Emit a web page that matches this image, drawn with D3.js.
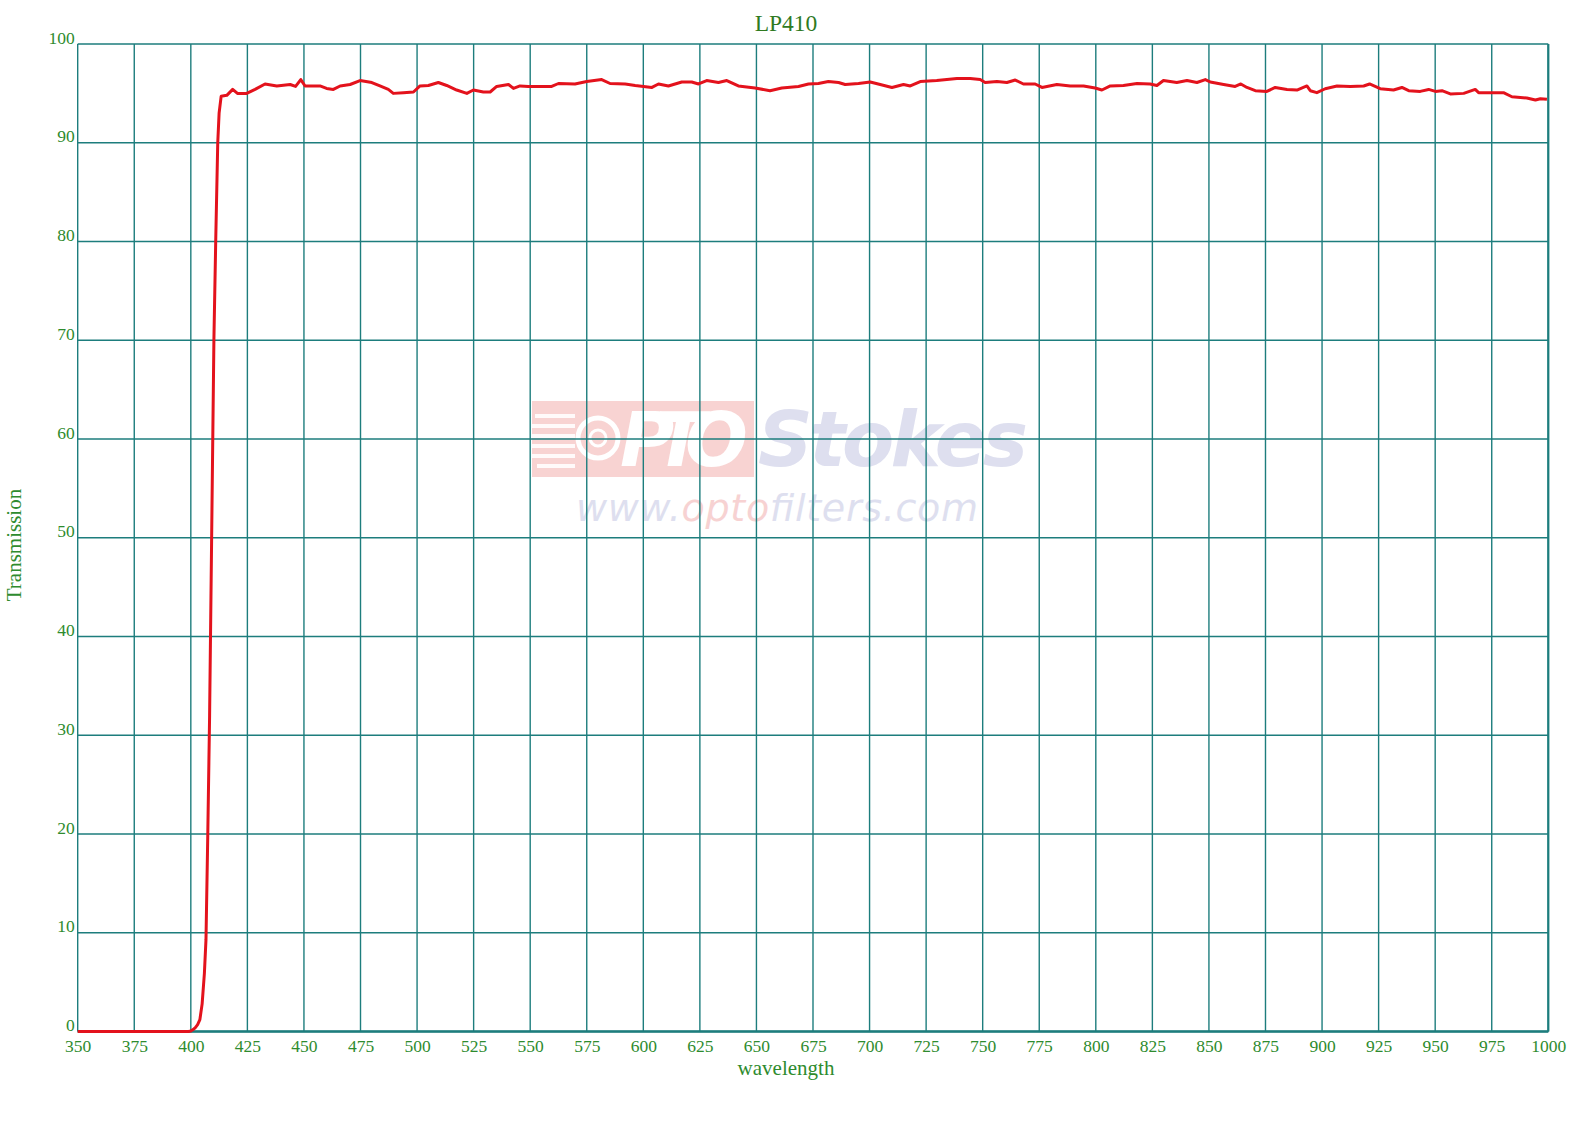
<!DOCTYPE html>
<html>
<head>
<meta charset="utf-8">
<script src="https://cdn.jsdelivr.net/npm/d3@7"></script>
<style>
  html, body { margin: 0; padding: 0; background: #fff; }
  svg { display: block; }
</style>
</head>
<body>
<svg id="chart" width="1581" height="1136"></svg>
<script>
// ---- data ----
const chartTitle = "LP410";
const xLabel = "wavelength";
const yLabel = "Transmission";
const xTicks = [350, 375, 400, 425, 450, 475, 500, 525, 550, 575, 600, 625, 650, 675, 700, 725, 750, 775, 800, 825, 850, 875, 900, 925, 950, 975, 1000];
const yTicks = [0, 10, 20, 30, 40, 50, 60, 70, 80, 90, 100];
const wavelengths = [
  350, 375, 399, 400, 401, 402, 403, 404, 405, 406, 406.7, 407.5, 408.3, 409.2, 410.2, 411, 411.9, 412.5, 413.4,
  415.9, 418.5, 420.6, 424.7, 428.4, 432.8, 438, 443.9, 446.3, 448.6, 450.5, 457.1, 460, 463, 466, 470.4, 474.8,
  480, 483.6, 487.3, 489.5, 494, 498.4, 501.3, 505, 509.4, 513.1, 517.5, 522, 524.9, 529.3, 532.3, 535.2, 540.4,
  542.6, 545.5, 549.2, 553.6, 559.5, 562.5, 569.8, 575, 581.6, 585.3, 592, 596.4, 603.8, 606.7, 611.1, 617, 621.4,
  624.4, 628, 633.2, 636.9, 642, 649.4, 656, 661.2, 668.6, 673, 677.4, 681.8, 686.3, 689.2, 695.1, 700.3, 704.7,
  709.9, 715, 718, 722.4, 729.7, 738.6, 744.5, 748.9, 751.1, 756.3, 760.7, 764.4, 768, 773.2, 776.2, 782.8, 788.7,
  794.6, 799.7, 802.7, 806.4, 812.2, 818.2, 824, 827, 829.9, 835.8, 840.3, 844.7, 848.4, 850.6, 856.5, 861.6, 864.1,
  866.8, 870.5, 875.6, 879.3, 884.5, 888.9, 893.3, 894.8, 897.7, 901.4, 906.6, 912.5, 918.4, 921, 925.7, 931.6,
  935.3, 938.3, 943.4, 947.1, 950.1, 953, 956.7, 962.6, 967.7, 969.2, 974.4, 980.2, 983.9, 990.5, 994.3, 996.5, 999.4
];
const transmission = [
  0, 0, 0, 0.05, 0.2, 0.4, 0.7, 1.2, 2.8, 5.9, 9.3, 20, 32, 50, 70, 80, 90, 93, 94.7,
  94.8, 95.4, 95.0, 95.0, 95.4, 95.95, 95.75, 95.9, 95.7, 96.4, 95.75, 95.75, 95.5, 95.4, 95.75, 95.9, 96.3,
  96.1, 95.75, 95.4, 95.0, 95.07, 95.14, 95.75, 95.8, 96.1, 95.8, 95.34, 95.0, 95.34, 95.14, 95.14, 95.7, 95.9,
  95.5, 95.75, 95.7, 95.7, 95.7, 96.0, 95.95, 96.2, 96.4, 96.0, 95.95, 95.8, 95.6, 95.95, 95.75, 96.15, 96.15,
  95.95, 96.3, 96.1, 96.3, 95.75, 95.54, 95.27, 95.54, 95.7, 95.95, 96.0, 96.2, 96.1, 95.9, 96.0, 96.15, 95.9,
  95.6, 95.9, 95.75, 96.2, 96.3, 96.5, 96.5, 96.4, 96.1, 96.2, 96.1, 96.35, 95.95, 95.95, 95.6, 95.9, 95.75,
  95.75, 95.54, 95.34, 95.75, 95.8, 96.0, 95.95, 95.8, 96.3, 96.1, 96.3, 96.1, 96.4, 96.15, 95.9, 95.7, 95.95,
  95.6, 95.27, 95.2, 95.6, 95.4, 95.34, 95.75, 95.27, 95.07, 95.47, 95.75, 95.7, 95.75, 95.95, 95.47, 95.34,
  95.6, 95.27, 95.2, 95.4, 95.2, 95.27, 94.94, 95.0, 95.4, 95.07, 95.07, 95.07, 94.66, 94.53, 94.33, 94.46, 94.4
];
const watermarkBrand = ["O", "PTO", "Stokes"];
const watermarkUrl = ["www.", "opto", "filters.com"];

// ---- layout ----
const plotLeft = 77.7, plotRight = 1548.3, plotTop = 44, plotBottom = 1031.5;
const gridColor = "#1d7d7d";
const textColor = "#2e8b2e";
const serif = "'Liberation Serif', 'Times New Roman', serif";

const svg = d3.select("#chart");
const x = d3.scaleLinear().domain([350, 1000]).range([plotLeft, plotRight]);
const y = d3.scaleLinear().domain([0, 100]).range([plotBottom, plotTop]);

// watermark (behind grid)
const wm = svg.append("g").attr("class", "watermark").attr("opacity", 0.8);
wm.append("rect").attr("x", 532).attr("y", 401).attr("width", 222).attr("height", 76)
  .attr("fill", "#f7c9c7");
wm.append("circle").attr("cx", 598).attr("cy", 438).attr("r", 20).attr("fill", "none")
  .attr("stroke", "#fff").attr("stroke-width", 5);
wm.append("circle").attr("cx", 598).attr("cy", 438).attr("r", 8).attr("fill", "none")
  .attr("stroke", "#fff").attr("stroke-width", 3);
[[414, 40], [424, 55], [434, 48], [444, 60], [454, 45], [464, 38]].forEach(d => {
  wm.append("rect").attr("x", 575 - d[1]).attr("y", d[0]).attr("width", d[1]).attr("height", 4)
    .attr("fill", "#fff").attr("opacity", 0.9);
});
wm.append("text").attr("x", 620).attr("y", 466)
  .attr("font-family", "'DejaVu Sans', sans-serif").attr("font-weight", "bold").attr("font-style", "italic")
  .attr("font-size", 74).attr("fill", "#fff").attr("textLength", 128).text(watermarkBrand[1]);
wm.append("text").attr("x", 758).attr("y", 466)
  .attr("font-family", "'DejaVu Sans', sans-serif").attr("font-weight", "bold").attr("font-style", "italic")
  .attr("font-size", 76).attr("fill", "#d6d8ec").attr("textLength", 270).text(watermarkBrand[2]);
const url = wm.append("text").attr("x", 576).attr("y", 521)
  .attr("font-family", "'DejaVu Sans', sans-serif").attr("font-style", "italic")
  .attr("font-size", 38).attr("textLength", 402);
url.append("tspan").attr("fill", "#d6d8ec").text(watermarkUrl[0]);
url.append("tspan").attr("fill", "#f6c8c8").text(watermarkUrl[1]);
url.append("tspan").attr("fill", "#d6d8ec").text(watermarkUrl[2]);

// grid
const grid = svg.append("g").attr("class", "grid");
grid.selectAll("line.v").data(xTicks).join("line").attr("class", "v")
  .attr("x1", d => x(d)).attr("x2", d => x(d)).attr("y1", plotTop).attr("y2", plotBottom)
  .attr("stroke", gridColor).attr("stroke-width", 1.4);
grid.selectAll("line.h").data(yTicks).join("line").attr("class", "h")
  .attr("x1", plotLeft).attr("x2", plotRight).attr("y1", d => y(d)).attr("y2", d => y(d))
  .attr("stroke", gridColor).attr("stroke-width", 1.4);
grid.append("line").attr("x1", plotLeft).attr("x2", plotRight).attr("y1", plotBottom).attr("y2", plotBottom)
  .attr("stroke", gridColor).attr("stroke-width", 2.4);
grid.append("line").attr("x1", plotRight).attr("x2", plotRight).attr("y1", plotTop).attr("y2", plotBottom)
  .attr("stroke", gridColor).attr("stroke-width", 2.2);

// axes (labels via d3 axes)
const xAxis = d3.axisBottom(x).tickValues(xTicks).tickSize(0).tickPadding(0).tickFormat(d3.format("d"));
const gx = svg.append("g").attr("transform", `translate(0,${plotBottom})`).call(xAxis);
gx.select(".domain").remove();
gx.selectAll("text").attr("font-family", serif).attr("font-size", 17.5).attr("fill", textColor)
  .attr("dy", null).attr("y", 20);

const yAxis = d3.axisLeft(y).tickValues(yTicks).tickSize(0).tickPadding(0).tickFormat(d3.format("d"));
const gy = svg.append("g").attr("transform", `translate(${plotLeft - 3},0)`).call(yAxis);
gy.select(".domain").remove();
gy.selectAll("text").attr("font-family", serif).attr("font-size", 17.5).attr("fill", textColor)
  .attr("dy", null).attr("y", -1);

// curve
const pts = wavelengths.map((w, i) => [w, transmission[i]]);
const line = d3.line().x(d => x(d[0])).y(d => y(d[1])).curve(d3.curveLinear);
svg.append("path").datum(pts).attr("d", line).attr("fill", "none")
  .attr("stroke", "#e3121c").attr("stroke-width", 3).attr("stroke-linejoin", "round");

// titles
svg.append("text").attr("x", 786).attr("y", 31).attr("text-anchor", "middle")
  .attr("font-family", serif).attr("font-size", 23.5).attr("fill", "#2f7a1f").text(chartTitle);
svg.append("text").attr("x", 786).attr("y", 1075).attr("text-anchor", "middle")
  .attr("font-family", serif).attr("font-size", 21).attr("fill", textColor).text(xLabel);
svg.append("text").attr("transform", "translate(21,545) rotate(-90)").attr("text-anchor", "middle")
  .attr("font-family", serif).attr("font-size", 21).attr("fill", textColor).text(yLabel);
</script>
</body>
</html>
